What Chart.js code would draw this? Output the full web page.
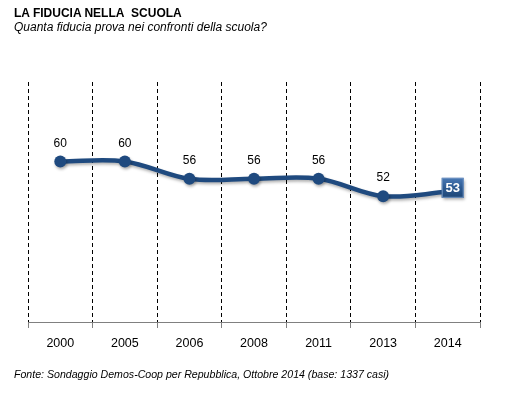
<!DOCTYPE html>
<html>
<head>
<meta charset="utf-8">
<script src="https://cdn.jsdelivr.net/npm/chart.js@4/dist/chart.umd.min.js"></script>
<style>
  html, body { margin: 0; padding: 0; background: #fff; }
  #wrap { position: relative; width: 509px; height: 394px; overflow: hidden; }
  #chartBox { position: absolute; left: 0; top: 0; width: 509px; height: 394px; }
  .txt { position: absolute; font-family: Arial, "Liberation Sans", sans-serif; color: #000; white-space: nowrap; }
  #title { left: 14px; top: 6px; font-size: 12px; font-weight: bold; }
  #subtitle { left: 14px; top: 20px; font-size: 12px; font-style: italic; }
  #footer { left: 14px; top: 368px; font-size: 10.6px; font-style: italic; }
</style>
</head>
<body>
<div id="wrap">
  <div id="chartBox"><canvas id="c"></canvas></div>
  <div class="txt" id="title">LA FIDUCIA NELLA&nbsp; SCUOLA</div>
  <div class="txt" id="subtitle">Quanta fiducia prova nei confronti della scuola?</div>
  <div class="txt" id="footer">Fonte: Sondaggio Demos-Coop per Repubblica, Ottobre 2014 (base: 1337 casi)</div>
</div>
<script>
const categories = ["2000", "2005", "2006", "2008", "2011", "2013", "2014"];
const values = [60, 60, 56, 56, 56, 52, 53];
const lineColor = "#1F4A7F";

const labelPlugin = {
  id: "pointLabels",
  afterDatasetsDraw(chart) {
    const ctx = chart.ctx;
    const meta = chart.getDatasetMeta(0);
    const last = values.length - 1;
    ctx.save();
    meta.data.forEach((pt, i) => {
      const txt = String(values[i]);
      if (i === last) {
        const bx = pt.x + 5, by = pt.y - 4;
        const w = 22, h = 20;
        const g = ctx.createLinearGradient(0, by - h / 2, 0, by + h / 2);
        g.addColorStop(0, "#4A79B5");
        g.addColorStop(0.5, "#2C5A92");
        g.addColorStop(1, "#1E4675");
        ctx.shadowColor = "rgba(0,0,0,0.35)";
        ctx.shadowOffsetX = 1; ctx.shadowOffsetY = 2; ctx.shadowBlur = 3;
        ctx.fillStyle = g;
        ctx.fillRect(bx - w / 2, by - h / 2, w, h);
        ctx.shadowColor = "transparent";
        ctx.strokeStyle = "#6F93C2";
        ctx.lineWidth = 1;
        ctx.strokeRect(bx - w / 2 + 0.5, by - h / 2 + 0.5, w - 1, h - 1);
        ctx.fillStyle = "#fff";
        ctx.font = "bold 13px Arial, 'Liberation Sans', sans-serif";
        ctx.textAlign = "center";
        ctx.textBaseline = "middle";
        ctx.fillText(txt, bx, by + 1);
      } else {
        ctx.fillStyle = "#000";
        ctx.font = "12px Arial, 'Liberation Sans', sans-serif";
        ctx.textAlign = "center";
        ctx.textBaseline = "middle";
        ctx.fillText(txt, pt.x, pt.y - 18);
      }
    });
    ctx.restore();
  }
};

const shadowPlugin = {
  id: "lineShadow",
  beforeDatasetDraw(chart) {
    const ctx = chart.ctx;
    ctx.save();
    ctx.shadowColor = "rgba(0,0,0,0.3)";
    ctx.shadowOffsetX = 1;
    ctx.shadowOffsetY = 2;
    ctx.shadowBlur = 3;
  },
  afterDatasetDraw(chart) {
    chart.ctx.restore();
  }
};

new Chart(document.getElementById("c"), {
  type: "line",
  data: {
    labels: categories,
    datasets: [{
      data: values,
      borderColor: lineColor,
      backgroundColor: lineColor,
      borderWidth: 4.5,
      tension: 0.35,
      pointRadius: values.map((v, i) => i === values.length - 1 ? 0 : 6),
      pointBackgroundColor: lineColor,
      pointBorderWidth: 0,
      fill: false
    }]
  },
  options: {
    responsive: true,
    maintainAspectRatio: false,
    animation: false,
    devicePixelRatio: 1,
    layout: { padding: { left: 28, right: 29, top: 82, bottom: 35 } },
    plugins: {
      legend: { display: false },
      title: { display: false },
      tooltip: { enabled: false }
    },
    scales: {
      x: {
        type: "category",
        offset: true,
        grid: {
          display: true,
          offset: true,
          color: "#000",
          lineWidth: 1,
          drawOnChartArea: true,
          drawTicks: true,
          tickLength: 6,
          tickColor: "#808080",
          tickBorderDash: []
        },
        border: { display: true, color: "#808080", width: 1, dash: [4, 3] },
        ticks: {
          color: "#000",
          padding: 8,
          font: { family: "Arial, 'Liberation Sans', sans-serif", size: 12.5 }
        }
      },
      y: {
        display: false,
        min: 23,
        max: 78.3
      }
    }
  },
  plugins: [shadowPlugin, labelPlugin]
});
</script>
</body>
</html>
